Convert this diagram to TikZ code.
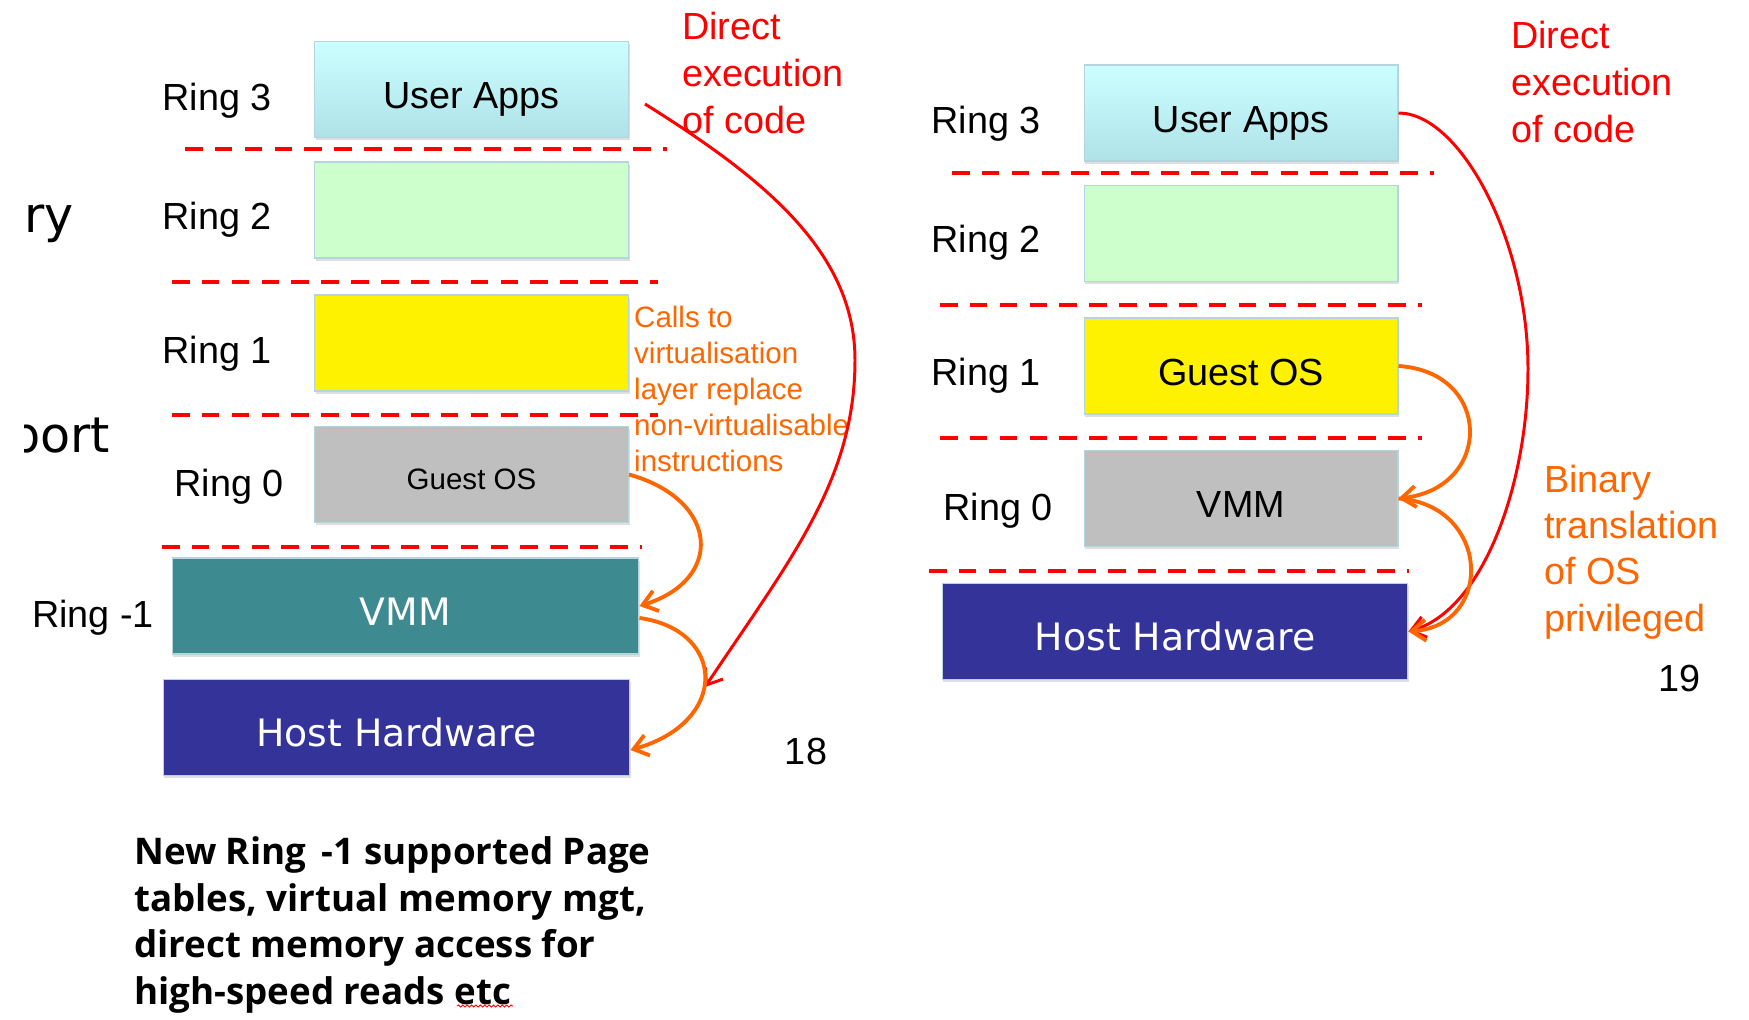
\documentclass[tikz,border=0pt]{standalone}
\usepackage{fontspec}
\setmainfont{Liberation Sans}
\newfontfamily\verafont{DejaVu Sans}
\newfontfamily\notefont{Open Sans}
\usetikzlibrary{shapes,arrows,arrows.meta,shadows,decorations.pathmorphing}
\definecolor{appcyan}{HTML}{CCFFFF}
\definecolor{appcyandark}{HTML}{AEE2E8}
\definecolor{ringgreen}{HTML}{CCFFCC}
\definecolor{osgrey}{HTML}{BFBFBF}
\definecolor{vmmteal}{HTML}{3D8B91}
\definecolor{hwnavy}{HTML}{333399}
\definecolor{boxedge}{HTML}{B4D4DE}
\definecolor{callorange}{HTML}{FF6600}
\tikzstyle{block} = [rectangle, draw=boxedge, line width=0.6pt, 
    minimum width=6.28cm, minimum height=1.92cm, inner sep=0pt,
    text height=22pt, text depth=0pt,
    font=\fontsize{21.5}{26}\selectfont,
    drop shadow={shadow xshift=0.6pt, shadow yshift=-1.6pt, opacity=0.25}]
\tikzstyle{wide} = [block, minimum width=9.34cm, text=white, font=\verafont\fontsize{21.5}{26}\selectfont]
\tikzstyle{ring} = [font=\fontsize{21.5}{26}\selectfont]
\tikzstyle{border} = [draw=red, line width=2.3pt, dash pattern=on 10pt off 7pt]
\tikzstyle{line} = [draw, red, line width=1.7pt, -{Straight Barb[length=8pt,width=12pt]}]
\tikzstyle{call} = [line, draw=callorange, line width=2.2pt]
\tikzstyle{note} = [anchor=west, align=left, font=\fontsize{21.5}{26.6}\selectfont]

\begin{document}
\begin{tikzpicture}[x=0.02cm, y=-0.02cm]
	\useasboundingbox (0,0) rectangle (1749,1020);

	% left: hardware assisted
	\node [anchor=base west, font=\verafont\fontsize{28}{32}\selectfont] (ry) at (18,233) {ry};
	\begin{scope}
		\clip (24,380) rectangle (150,480);
		\node [anchor=base west, font=\verafont\fontsize{28}{32}\selectfont] (port) at (3,453) {port};
	\end{scope}

	\node [block, top color=appcyan, bottom color=appcyandark] (appsl) at (471.5,89.5) {User Apps};
	\node [block, fill=ringgreen] (ring2l) at (471.5,210) {};
	\node [block, fill=yellow] (ring1l) at (471.5,343) {};
	\node [block, fill=osgrey, text height=17pt, font=\fontsize{16.8}{20}\selectfont] (guestl) at (471.5,474.5) {Guest OS};
	\node [wide, fill=vmmteal] (vmml) at (405.5,606) {VMM};
	\node [wide, fill=hwnavy] (hostl) at (396.5,727.5) {Host Hardware};

	\node [ring] (r3l) at (217,101) {Ring 3};
	\node [ring] (r2l) at (217,220) {Ring 2};
	\node [ring] (r1l) at (217,354) {Ring 1};
	\node [ring] (r0l) at (229,487) {Ring 0};
	\node [ring] (rml) at (93,618) {Ring -1};

	\draw [border] (185,149) -- (667,149);
	\draw [border] (172,282) -- (658,282);
	\draw [border] (172,415) -- (658,415);
	\draw [border] (162,547) -- (642,547);

	\node [note, red] (execl) at (676,73) {Direct\\execution\\of code};
	\node [note, callorange, font=\fontsize{16.8}{20.4}\selectfont] (calls) at (628,389)
		{Calls to\\virtualisation\\layer replace\\non-virtualisable\\instructions};
	\node [ring] (p18) at (806,751) {18};

	\node [anchor=west, align=left, font=\notefont\bfseries\fontsize{20.9}{26.5}\selectfont] (hwnote) at (128,925)
		{New Ring \,-1 supported Page\\tables, virtual memory mgt,\\direct memory access for\\high-speed reads etc};
	\draw [red, line width=0.5pt, decorate, decoration={snake, amplitude=0.6pt, segment length=2.5pt}] (457,1006) -- (513,1006);

	\coordinate (execfroml) at (645,104);
	\coordinate (exectol) at (705,687);
	\path [line] (execfroml) .. controls (760,176) and (855,250) .. (855,360)
		.. controls (855,480) and (790,560) .. (exectol);
	\path [call] (guestl.east) .. controls (720,500) and (724,580) .. (vmml.east);
	\path [call] ([yshift=-0.24cm]vmml.east) .. controls (726,630) and (730,722) .. ([yshift=-0.45cm]hostl.east);

	% right: binary translation
	\node [block, top color=appcyan, bottom color=appcyandark] (appsr) at (1241,113) {User Apps};
	\node [block, fill=ringgreen] (ring2r) at (1241,233.5) {};
	\node [block, fill=yellow] (guestr) at (1241,366) {Guest OS};
	\node [block, fill=osgrey] (vmmr) at (1241,498.5) {VMM};
	\node [wide, fill=hwnavy, minimum width=9.32cm] (hostr) at (1175,631.5) {Host Hardware};

	\node [ring] (r3r) at (986,124) {Ring 3};
	\node [ring] (r2r) at (986,243) {Ring 2};
	\node [ring] (r1r) at (986,376) {Ring 1};
	\node [ring] (r0r) at (998,511) {Ring 0};

	\draw [border] (952,173) -- (1434,173);
	\draw [border] (940,305) -- (1422,305);
	\draw [border] (940,438) -- (1422,438);
	\draw [border] (929,571) -- (1409,571);

	\node [note, red] (execr) at (1505,82) {Direct\\execution\\of code};
	\node [note, callorange, font=\fontsize{21.5}{26.4}\selectfont] (binary) at (1538,552)
		{Binary\\translation\\of OS\\privileged};
	\node [ring] (p19) at (1679,678) {19};

	\path [line] (appsr.east) .. controls (1460,113) and (1528,240) .. (1528,369)
		.. controls (1528,480) and (1485,610) .. (hostr.east);
	\path [call] (guestr.east) .. controls (1493,372) and (1493,488) .. (vmmr.east);
	\path [call] (vmmr.east) .. controls (1490,505) and (1495,625) .. (hostr.east);
\end{tikzpicture}
\end{document}
